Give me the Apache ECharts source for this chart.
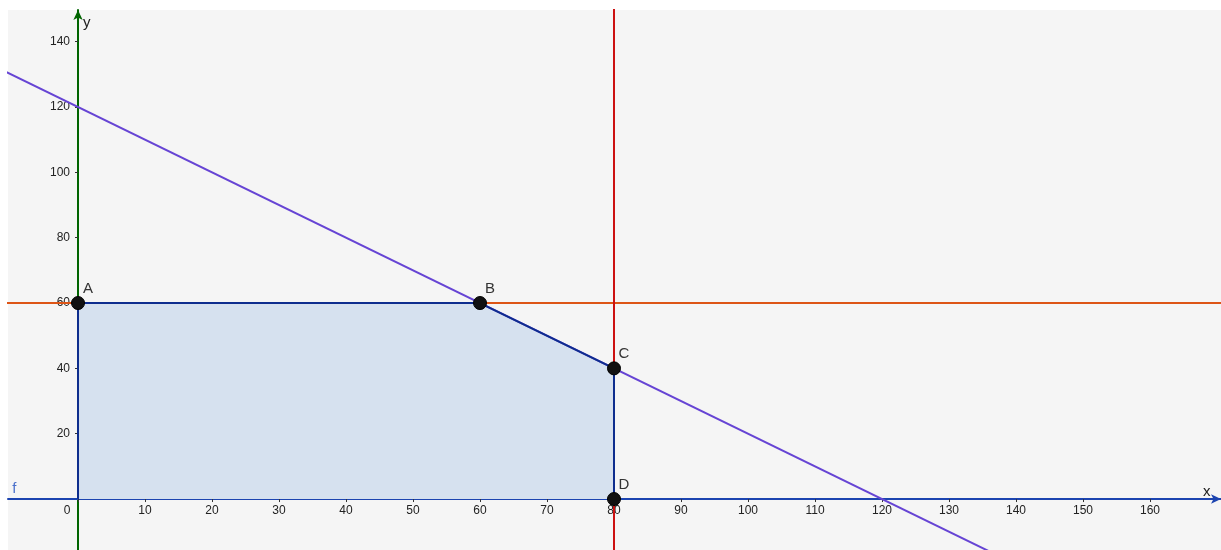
<!DOCTYPE html>
<html>
<head>
<meta charset="utf-8">
<script src="https://cdn.jsdelivr.net/npm/echarts@6/dist/echarts.min.js"></script>
<style>html,body{margin:0;padding:0;background:#fff;}#c{width:1221px;height:550px;}</style>
</head>
<body>
<div id="c"></div>
<script>
const xTicks = [0,10,20,30,40,50,60,70,80,90,100,110,120,130,140,150,160];
const yTicks = [20,40,60,80,100,120,140];
const feasible = [[0,0],[0,60],[60,60],[80,40],[80,0]];
const vertexNames = ['A','B','C','D'];
const vertexValues = [[0,60],[60,60],[80,40],[80,0]];
const lineXY120 = [[-20,140],[150,-30]];   // x + y = 120
const lineY60 = [[-20,60],[180,60]];       // y = 60
const lineX80 = [[80,-20],[80,160]];       // x = 80
const fLabelPos = [[-9.5,0]];

const X_MIN = -10.45, X_MAX = 170.6, Y_MIN = -15.6, Y_MAX = 149.7;
const GRID = {left: 8, top: 10, right: 0, bottom: 0, W: 1221, H: 550};
const gw = GRID.W - GRID.left - GRID.right, gh = GRID.H - GRID.top - GRID.bottom;
// offsets that place the axes on x=0 / y=0 (derived from the scales)
const xAxisOffset = -(gh * (0 - Y_MIN) / (Y_MAX - Y_MIN));
const yAxisOffset = -(gw * (0 - X_MIN) / (X_MAX - X_MIN));

const font = '"Liberation Sans", Arial, sans-serif';
const chart = echarts.init(document.getElementById('c'));
chart.setOption({
  animation: false,
  backgroundColor: '#ffffff',
  grid: {left: GRID.left, top: GRID.top, right: GRID.right, bottom: GRID.bottom,
         outerBoundsMode: 'none', containLabel: false,
         show: true, backgroundColor: '#f5f5f5', borderWidth: 0},
  xAxis: {
    type: 'value', min: X_MIN, max: X_MAX, position: 'bottom', offset: xAxisOffset,
    name: 'x', nameLocation: 'end', nameGap: -18,
    nameTextStyle: {color: '#222', fontSize: 15, fontFamily: font, align: 'left', verticalAlign: 'bottom', padding: [0,0,0,0]},
    axisLine: {onZero: false, lineStyle: {color: '#1c44b0', width: 2}, symbol: ['none','arrow'], symbolSize: [7,10]},
    axisTick: {show: true, length: 3, inside: false, customValues: xTicks, lineStyle: {color: '#333'}},
    axisLabel: {
      customValues: xTicks, margin: 6, color: '#222', fontSize: 12, fontFamily: font,
      formatter: v => v === 0 ? '{z|0}' : String(v),
      rich: {z: {padding: [0,22,0,0], color: '#222', fontSize: 12, fontFamily: font}}
    },
    splitLine: {show: false}
  },
  yAxis: {
    type: 'value', min: Y_MIN, max: Y_MAX, position: 'left', offset: yAxisOffset,
    name: 'y', nameLocation: 'end', nameGap: -20,
    nameTextStyle: {color: '#222', fontSize: 15, fontFamily: font, align: 'left', padding: [0,0,0,5]},
    axisLine: {onZero: false, lineStyle: {color: '#006400', width: 2}, symbol: ['none','arrow'], symbolSize: [7,10]},
    axisTick: {show: true, length: 3, inside: false, customValues: yTicks, lineStyle: {color: '#333'}},
    axisLabel: {customValues: yTicks, margin: 8, color: '#222', fontSize: 12, fontFamily: font},
    splitLine: {show: false}
  },
  series: [
    {type: 'line', data: feasible, symbol: 'none', z: 2,
     lineStyle: {width: 0}, areaStyle: {color: '#d6e1ef', opacity: 1}},
    {type: 'line', data: lineXY120, symbol: 'none', z: 3, lineStyle: {color: '#6644d4', width: 2}},
    {type: 'line', data: lineY60, symbol: 'none', z: 3, lineStyle: {color: '#dd5516', width: 2}},
    {type: 'line', data: lineX80, symbol: 'none', z: 3, lineStyle: {color: '#cc1111', width: 2}},
    {type: 'line', data: feasible, symbol: 'none', z: 4, lineStyle: {color: '#0e2d8e', width: 2}},
    {type: 'scatter', z: 5, symbolSize: 13,
     itemStyle: {color: '#111', borderColor: '#000', borderWidth: 1, opacity: 1},
     data: vertexValues.map((v, i) => ({name: vertexNames[i], value: v})),
     label: {show: true, formatter: p => p.name, position: 'top', offset: [10, 5],
             color: '#333', fontSize: 15, fontFamily: font}},
    {type: 'scatter', z: 5, symbolSize: 0, data: fLabelPos,
     label: {show: true, formatter: 'f', position: 'top', distance: 3,
             color: '#1f4fc0', fontSize: 15, fontFamily: font}}
  ]
});
</script>
</body>
</html>
